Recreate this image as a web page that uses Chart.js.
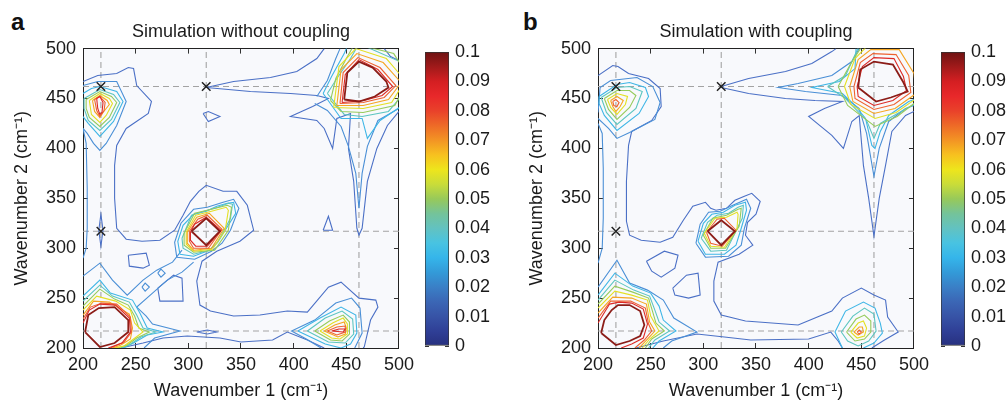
<!DOCTYPE html>
<html>
<head>
<meta charset="utf-8">
<script src="https://cdn.jsdelivr.net/npm/chart.js@4.4.1/dist/chart.umd.min.js"></script>
<style>
  html, body { margin:0; padding:0; background:#fff; }
  #wrap { position:relative; width:1008px; height:400px; overflow:hidden; }
  canvas { position:absolute; top:0; }
  .letter { position:absolute; top:8px; font: bold 24px "Liberation Sans", Arial, Helvetica, sans-serif; color:#111; line-height:28px; }
</style>
</head>
<body>
<div id="wrap">
  <div class="letter" style="left:11px">a</div>
  <div class="letter" style="left:523px">b</div>
  <canvas id="plotA" width="425" height="400" style="left:0px"></canvas>
  <canvas id="barA" width="90" height="400" style="left:410px"></canvas>
  <canvas id="plotB" width="425" height="400" style="left:515px"></canvas>
  <canvas id="barB" width="82" height="400" style="left:926px"></canvas>
</div>
<script>
// ---------------- data ----------------
const panelTitles = ['Simulation without coupling', 'Simulation with coupling'];
const xAxisTitle = 'Wavenumber 1 (cm\u207B\u00B9)';
const yAxisTitle = 'Wavenumber 2 (cm\u207B\u00B9)';
const wavenumberTicks = [200, 250, 300, 350, 400, 450, 500];
const colorbarTicks = [0, 0.01, 0.02, 0.03, 0.04, 0.05, 0.06, 0.07, 0.08, 0.09, 0.1];
const colorbarTickLabels = ['0', '0.01', '0.02', '0.03', '0.04', '0.05', '0.06', '0.07', '0.08', '0.09', '0.1'];
const contourLevels = [0.01, 0.02, 0.03, 0.04, 0.05, 0.06, 0.07, 0.08, 0.09, 0.1];
const guidePositions = [217, 317, 462];
const crossPoints = [[217, 462], [317, 462], [217, 317]];

// contour lines, panel a: [level index (1..10), [[wavenumber1, wavenumber2], ...]]
const aLevel1Lines = [
  [1, [[200,467],[214,473],[232,475],[243,481],[248,480],[251,463],[265,447],[262,435],[241,420],[232,403],[230,383],[230,350],[232,320],[241,309],[256,307],[273,308],[287,318],[295,333],[302,347],[310,357],[317,363],[333,357],[346,357],[356,343],[362,318],[349,307],[327,297],[313,287],[308,267],[311,243],[321,237],[343,232],[368,233],[394,237],[413,236],[433,261],[445,266],[462,250],[478,248],[480,241],[473,228],[467,201],[466,200]]],
  [1, [[317,461],[343,467],[378,471],[403,477],[422,490],[429,500]]],
  [1, [[317,461],[359,457],[397,455],[422,453],[433,450],[418,442],[397,432],[422,428],[429,420],[437,400],[441,430],[454,435],[452,400],[457,367],[460,320],[462,313],[465,320],[470,367],[479,400],[489,423],[500,437]]],
  [1, [[236,200],[257,205],[276,210],[299,212],[330,210],[350,206],[380,208],[394,216],[413,208],[429,200]]],
  [1, [[486,500],[492,492],[500,488]]]
];
const aIslands = [
  [1, [[314,435],[319,437],[330,432],[319,427],[314,435]]],
  [1, [[428,318],[433,332],[437,318],[428,318]]],
  [1, [[243,293],[260,295],[263,283],[257,280],[244,282],[243,293]]],
  [1, [[271,260],[286,273],[294,270],[295,247],[273,247],[271,260]]],
  [1, [[215,318],[217,334],[219,318],[217,302],[215,318]]],
  [1, [[308,216],[318,218],[327,216],[318,214],[308,216]]],
  [2, [[271,275],[274,279],[278,275],[274,271],[271,275]]],
  [2, [[256,261],[259,265],[263,261],[259,257],[256,261]]]
];
const aLevel2Lines = [
  [2, [[200,420],[203,405],[204,360],[204,320],[203,300],[200,290]]],
  [2, [[200,272],[216,285],[228,268],[242,253],[257,268],[270,278],[285,286],[294,298]]],
  [2, [[258,200],[268,210],[292,217],[266,224],[260,232],[251,241],[266,255],[280,268],[294,276],[305,286]]],
  [2, [[420,445],[432,438],[445,422],[452,402],[459,375],[462,340],[465,375],[470,402],[480,428],[500,440]]],
  [2, [[422,452],[432,468],[440,490],[444,500]]]
];
const aPeakLowLeft = [
  [3, [[200,252],[216,268],[226,255],[247,248],[254,235],[261,220],[276,216],[261,213],[248,205],[238,200]]],
  [4, [[200,247],[216,263],[228,252],[244,246],[251,233],[257,220],[269,216],[255,211],[244,203],[236,200]]],
  [5, [[200,242],[216,259],[230,249],[243,243],[249,232],[253,220],[263,216],[251,210],[242,203],[233,200]]],
  [6, [[200,238],[213,252],[231,247],[245,238],[249,225],[257,216],[248,209],[239,202],[230,200]]],
  [7, [[200,233],[210,247],[225,246],[244,234],[247,220],[245,209],[236,203],[228,200]]],
  [8, [[200,229],[207,241],[218,245],[232,244],[245,231],[246,216],[239,206],[226,200]]],
  [9, [[200,225],[206,238],[216,244],[231,243],[244,230],[245,216],[237,205],[224,200]]],
  [10, [[202,216],[205,233],[215,240],[230,241],[243,228],[243,216],[230,205],[216,201],[202,216]]]
];
const aPeakUpRight = [
  [3, [[428,455],[436,472],[448,495],[452,505],[505,505],[506,445],[482,428],[470,410],[465,430],[445,430],[428,455]]],
  [4, [[432,455],[441,470],[454,490],[462,505],[505,485],[510,462],[490,437],[465,432],[448,434],[432,455]]],
  [5, [[435,448],[440,470],[450,490],[458,505],[495,495],[510,470],[496,443],[466,436],[445,437],[435,448]]],
  [6, [[438,441],[443,482],[459,500],[488,490],[506,468],[493,446],[466,440],[438,441]]],
  [7, [[441,443],[445,479],[460,495],[485,486],[502,466],[490,449],[466,443],[441,443]]],
  [8, [[444,445],[447,476],[461,491],[482,481],[497,463],[486,451],[466,446],[444,445]]],
  [9, [[446,446],[449,474],[462,489],[480,479],[494,462],[484,453],[467,448],[446,446]]],
  [10, [[448,449],[451,476],[462,487],[475,481],[488,467],[490,461],[477,452],[462,447],[448,449]]]
];
const aPeakCentre = [
  [2, [[289,291],[287,306],[293,325],[305,339],[318,341],[333,346],[343,349],[348,340],[340,318],[332,305],[322,297],[306,289],[289,291]]],
  [3, [[292,294],[290,307],[295,323],[305,334],[317,337],[327,342],[337,345],[343,346],[345,335],[335,318],[328,306],[320,298],[305,292],[292,294]]],
  [4, [[294,310],[303,333],[318,338],[328,341],[338,345],[342,344],[340,330],[334,318],[327,305],[320,298],[305,294],[295,300],[294,310]]],
  [5, [[296,315],[306,335],[322,339],[337,343],[341,341],[338,318],[325,298],[305,296],[296,303],[296,315]]],
  [6, [[298,316],[307,333],[322,337],[336,341],[338,338],[335,318],[323,299],[305,297],[298,304],[298,316]]],
  [7, [[299,316],[308,331],[320,335],[334,320],[322,300],[305,298],[299,305],[299,316]]],
  [8, [[301,317],[309,329],[318,333],[332,319],[319,300],[305,300],[301,307],[301,317]]],
  [9, [[302,316],[306,324],[317,331],[331,318],[318,302],[307,302],[302,308],[302,316]]],
  [10, [[303,317],[317,330],[330,317],[317,303],[303,317]]]
];
const aPeakUpLeft = [
  [2, [[200,463],[214,467],[232,467],[241,447],[232,423],[222,405],[216,398],[210,405],[204,415],[200,420]]],
  [3, [[200,455],[208,460],[216,462],[232,457],[238,447],[229,427],[216,412],[205,425],[200,432]]],
  [4, [[201,450],[216,459],[229,454],[235,446],[227,429],[216,418],[205,428],[201,440],[201,450]]],
  [5, [[203,449],[216,457],[227,452],[232,446],[225,431],[216,422],[206,431],[203,440],[203,449]]],
  [6, [[206,448],[216,455],[225,450],[228,445],[222,433],[216,426],[208,434],[206,448]]],
  [7, [[209,448],[216,453],[223,448],[225,444],[219,436],[216,431],[211,437],[209,448]]],
  [8, [[211,449],[216,452],[221,446],[220,438],[216,432],[213,438],[211,449]]],
  [9, [[213,450],[216,452],[219,446],[218,436],[216,434],[214,440],[213,450]]]
];
const aPeakLowRight = [
  [2, [[426,200],[412,209],[398,217],[420,228],[440,245],[455,250],[463,240],[465,215],[458,200]]],
  [3, [[404,217],[425,230],[445,241],[459,233],[460,215],[454,204],[445,200],[430,204],[404,217]]],
  [4, [[413,217],[430,230],[446,237],[456,229],[457,214],[449,205],[433,206],[413,217]]],
  [5, [[420,217],[434,227],[447,233],[453,226],[453,214],[446,207],[435,208],[420,217]]],
  [6, [[425,217],[437,225],[447,230],[451,224],[451,214],[444,209],[436,210],[425,217]]],
  [7, [[429,217],[439,223],[448,226],[450,220],[449,214],[442,211],[429,217]]],
  [8, [[432,217],[441,221],[449,222],[449,216],[441,213],[432,217]]],
  [9, [[436,217],[443,219],[449,219],[447,216],[436,217]]]
];

// contour lines, panel b
const bLevel1Lines = [
  [1, [[200,473],[214,483],[219,482],[229,475],[248,470],[259,460],[260,442],[251,428],[232,417],[229,403],[227,367],[227,327],[230,313],[241,308],[259,306],[271,311],[281,328],[290,342],[302,346],[307,340],[312,338],[322,340],[330,348],[339,352],[346,355],[354,347],[350,334],[342,326],[340,313],[347,303],[334,294],[314,286],[310,267],[310,247],[317,233],[340,227],[390,223],[422,237],[432,250],[450,260],[462,253],[473,248],[475,231],[485,216],[472,208],[460,200]]],
  [1, [[317,462],[343,470],[378,477],[403,485],[422,497],[426,500]]],
  [1, [[317,461],[343,455],[378,450],[406,448],[432,447],[415,440],[400,432],[422,413],[433,400],[441,427],[448,433],[452,383],[457,350],[462,312],[467,350],[473,383],[479,417],[492,433],[500,437]]],
  [1, [[236,200],[262,207],[294,214],[320,211],[345,208],[400,209],[421,216],[428,207],[432,200]]]
];
const bIslands = [
  [1, [[246,287],[263,297],[276,293],[273,280],[260,271],[251,277],[246,287]]],
  [1, [[271,260],[284,273],[295,275],[297,253],[286,250],[273,253],[271,260]]]
];
const bLevel2Lines = [
  [2, [[200,425],[204,415],[205,380],[205,330],[204,300],[200,285]]],
  [2, [[448,500],[441,487],[422,473],[390,465],[371,461],[397,457],[432,453],[448,440],[455,415],[462,372],[467,400],[476,427],[492,440],[500,443]]],
  [3, [[445,500],[444,480],[429,467],[403,461],[432,455],[444,443],[454,430],[460,403],[463,400],[468,417],[476,433],[495,447],[500,449]]]
];
const bPeakLowLeft = [
  [2, [[200,261],[218,288],[230,265],[247,258],[262,248],[272,230],[294,216],[270,207],[262,200]]],
  [3, [[200,253],[216,275],[233,262],[250,255],[258,242],[262,228],[274,217],[258,207],[252,200]]],
  [4, [[200,248],[216,268],[234,258],[249,252],[254,238],[258,226],[268,217],[254,208],[248,200]]],
  [5, [[200,244],[216,262],[233,256],[248,250],[252,236],[255,225],[263,217],[251,209],[245,200]]],
  [6, [[200,240],[216,257],[232,253],[247,248],[250,232],[258,217],[249,209],[242,200]]],
  [7, [[200,235],[214,251],[232,250],[246,244],[249,226],[254,217],[247,209],[239,200]]],
  [8, [[200,230],[212,247],[231,247],[245,240],[248,224],[251,217],[244,208],[235,200]]],
  [9, [[200,225],[211,244],[220,246],[232,245],[243,239],[247,224],[243,210],[232,204],[222,200]]],
  [10, [[203,215],[206,228],[213,238],[219,243],[230,243],[240,237],[244,223],[240,212],[230,207],[217,203],[203,215]]]
];
const bPeakUpRight = [
  [4, [[418,462],[435,473],[448,503],[505,503],[505,447],[486,436],[468,425],[462,410],[455,428],[435,450],[418,462]]],
  [5, [[428,462],[440,485],[451,503],[505,503],[505,449],[484,432],[463,422],[437,443],[428,462]]],
  [6, [[434,462],[444,490],[456,503],[505,503],[505,452],[483,436],[463,430],[440,444],[434,462]]],
  [7, [[439,462],[447,489],[459,499],[486,499],[500,475],[502,455],[482,440],[462,435],[442,447],[439,462]]],
  [8, [[443,462],[449,486],[461,495],[483,494],[495,473],[497,456],[481,444],[462,439],[444,450],[443,462]]],
  [9, [[446,462],[451,482],[462,491],[481,490],[490,472],[493,458],[480,448],[462,443],[447,452],[446,462]]],
  [10, [[447,461],[449,479],[462,487],[480,484],[490,466],[494,457],[478,451],[464,447],[447,461]]]
];
const bPeakCentre = [
  [2, [[293,305],[297,324],[305,336],[316,337],[328,343],[341,349],[345,340],[339,320],[336,303],[324,292],[302,291],[293,305]]],
  [3, [[295,307],[300,325],[308,334],[319,336],[330,343],[340,346],[341,338],[336,320],[331,303],[320,294],[302,294],[295,307]]],
  [4, [[298,310],[304,326],[313,333],[324,335],[333,341],[338,343],[337,330],[330,315],[322,298],[307,297],[298,310]]],
  [5, [[300,313],[309,330],[322,333],[333,339],[336,340],[334,322],[321,300],[307,300],[300,313]]],
  [6, [[301,315],[311,330],[322,331],[332,336],[333,334],[332,320],[320,301],[307,302],[301,315]]],
  [8, [[303,316],[313,329],[320,330],[331,318],[318,302],[307,305],[303,316]]],
  [10, [[304,317],[317,328],[330,317],[317,303],[304,317]]]
];
const bPeakUpLeft = [
  [2, [[200,436],[202,461],[212,468],[237,471],[252,462],[259,446],[254,429],[230,416],[218,410],[210,420],[200,430]]],
  [3, [[201,452],[218,464],[230,466],[245,461],[248,452],[239,435],[218,418],[206,433],[201,445],[201,452]]],
  [4, [[203,451],[218,461],[230,462],[242,457],[236,440],[218,424],[208,436],[203,451]]],
  [5, [[206,450],[218,458],[230,458],[236,453],[230,441],[218,429],[210,439],[206,450]]],
  [6, [[209,449],[218,455],[228,452],[226,444],[218,434],[212,441],[209,449]]],
  [7, [[212,448],[218,452],[224,448],[221,442],[217,437],[214,442],[212,448]]],
  [8, [[214,447],[217,449],[220,446],[218,442],[215,443],[214,447]]]
];
const bPeakLowRight = [
  [3, [[432,200],[425,216],[435,237],[452,246],[463,240],[468,225],[470,215],[462,205],[452,200]]],
  [4, [[431,216],[442,232],[453,240],[462,234],[464,217],[457,207],[447,202],[437,207],[431,216]]],
  [5, [[436,216],[445,229],[453,233],[459,227],[459,216],[453,209],[444,207],[436,216]]],
  [6, [[440,216],[447,225],[452,227],[455,220],[453,212],[446,210],[440,216]]],
  [7, [[443,216],[448,221],[451,221],[452,216],[447,213],[443,216]]],
  [8, [[446,216],[448,218],[450,216],[448,214],[446,216]]]
];

// ---------------- styles ----------------
const FONT = '"Liberation Sans", Arial, Helvetica, sans-serif';
const TEXT = '#1a1a1a';
const levelColors = ['#4b70c6', '#4a8fd6', '#3fb6e6', '#5cc5c0', '#96cb5c', '#e3e024', '#f5a623', '#ee6130', '#dd2a26', '#8c1d18'];
const colormapStops = ['#27307f','#2f3f96','#3753a6','#3b66b5','#3a7fc6','#339ad8','#35b5ea','#48c3e2','#62c2c1','#74c39a','#97c95a','#c9dc39','#eee51c','#f7c11f','#f39424','#ee6a27','#e9412a','#e8282a','#d41f22','#a01a1a','#6e1212'];

const plotBackground = {
  id: 'plotBackground',
  beforeDraw(chart) {
    const { ctx, chartArea: a } = chart;
    ctx.save();
    ctx.fillStyle = '#f8f9fc';
    ctx.fillRect(a.left, a.top, a.width, a.height);
    ctx.restore();
  }
};

function toPoints(arr) { return arr.map(p => ({ x: p[0], y: p[1] })); }

function buildDatasets(contours) {
  const lo = wavenumberTicks[0], hi = wavenumberTicks[wavenumberTicks.length - 1];
  const ds = [];
  guidePositions.forEach(v => {
    ds.push({ data: [{ x: v, y: lo }, { x: v, y: hi }], showLine: true, pointRadius: 0, borderColor: '#a3a3a3', borderWidth: 1.1, borderDash: [6, 4], order: 50, clip: 0 });
    ds.push({ data: [{ x: lo, y: v }, { x: hi, y: v }], showLine: true, pointRadius: 0, borderColor: '#a3a3a3', borderWidth: 1.1, borderDash: [6, 4], order: 50, clip: 0 });
  });
  contours.forEach(([lv, pts]) => {
    ds.push({ data: toPoints(pts), showLine: true, pointRadius: 0, fill: false, tension: 0,
      borderColor: levelColors[lv - 1], borderWidth: lv === 10 ? 1.8 : 1.1, order: 20 - lv, clip: 0 });
  });
  ds.push({ data: toPoints(crossPoints), showLine: false, pointStyle: 'crossRot', pointRadius: 6,
    borderColor: '#222', borderWidth: 1.5, order: 0 });
  return ds;
}

function setTicks(scale) { scale.ticks = wavenumberTicks.map(v => ({ value: v })); }

function panelConfig(title, contours) {
  const tickFont = { family: FONT, size: 18 };
  const titleFont = { family: FONT, size: 18, lineHeight: 1 };
  const grid = { drawOnChartArea: false, drawTicks: true, tickLength: -5, color: '#333', lineWidth: 1 };
  const border = { display: true, color: '#222', width: 1 };
  const lo = wavenumberTicks[0], hi = wavenumberTicks[wavenumberTicks.length - 1];
  return {
    type: 'scatter',
    data: { datasets: buildDatasets(contours) },
    options: {
      responsive: false, animation: false, events: [],
      layout: { padding: { left: 0, right: 0, top: 0, bottom: 0 } },
      plugins: {
        legend: { display: false }, tooltip: { enabled: false },
        title: { display: true, text: title, fullSize: false, color: TEXT,
          font: { family: FONT, size: 18, weight: 'normal' }, padding: { top: 21, bottom: 6 } }
      },
      scales: {
        x: { type: 'linear', position: 'bottom', min: lo, max: hi, afterBuildTicks: setTicks,
          ticks: { font: tickFont, color: TEXT, padding: 11, maxRotation: 0, callback: v => String(v) },
          grid, border,
          title: { display: true, text: xAxisTitle, color: TEXT, font: titleFont, padding: { top: 0, bottom: 0 } },
          afterFit: s => { s.height = 52; } },
        xTop: { type: 'linear', position: 'top', min: lo, max: hi, afterBuildTicks: setTicks,
          ticks: { display: false }, grid, border, afterFit: s => { s.height = 0; } },
        y: { type: 'linear', position: 'left', min: lo, max: hi, afterBuildTicks: setTicks,
          ticks: { font: tickFont, color: TEXT, padding: 12, callback: v => String(v) },
          grid, border,
          title: { display: true, text: yAxisTitle, color: TEXT, font: titleFont, padding: { top: 13, bottom: 0 } },
          afterFit: s => { s.width = 83; } },
        yRight: { type: 'linear', position: 'right', min: lo, max: hi, afterBuildTicks: setTicks,
          ticks: { display: false }, grid, border, afterFit: s => { s.width = 0; } }
      }
    },
    plugins: [plotBackground]
  };
}

function colorbarConfig(canvasWidth) {
  const setCbTicks = s => { s.ticks = colorbarTicks.map(v => ({ value: v })); };
  const grid = { drawOnChartArea: false, drawTicks: true, tickLength: -4, color: '#333', lineWidth: 1 };
  const top = colorbarTicks[colorbarTicks.length - 1];
  return {
    type: 'bar',
    data: { labels: [''], datasets: [{
      data: [top], yAxisID: 'y', xAxisID: 'x',
      backgroundColor: (c) => {
        const area = c.chart.chartArea;
        if (!area) return '#888';
        const g = c.chart.ctx.createLinearGradient(0, area.bottom, 0, area.top);
        colormapStops.forEach((col, i) => g.addColorStop(i / (colormapStops.length - 1), col));
        return g;
      },
      borderColor: '#333', borderWidth: 1, borderSkipped: false,
      barPercentage: 1, categoryPercentage: 1
    }] },
    options: {
      responsive: false, animation: false, events: [],
      layout: { padding: { left: 15, right: 0, top: 52, bottom: 54 } },
      plugins: { legend: { display: false }, tooltip: { enabled: false } },
      scales: {
        x: { display: false },
        y: { position: 'right', min: 0, max: top, afterBuildTicks: setCbTicks,
          ticks: { font: { family: FONT, size: 18 }, color: TEXT, padding: 10,
            callback: (v, i) => colorbarTickLabels[i] },
          grid, border: { display: false }, afterFit: s => { s.width = canvasWidth - 39; } },
        yLeft: { position: 'left', min: 0, max: top, afterBuildTicks: setCbTicks,
          ticks: { display: false }, grid, border: { display: false }, afterFit: s => { s.width = 0; } }
      }
    }
  };
}

const panelAContours = [...aLevel1Lines, ...aIslands, ...aLevel2Lines, ...aPeakLowLeft, ...aPeakUpRight, ...aPeakCentre, ...aPeakUpLeft, ...aPeakLowRight];
const panelBContours = [...bLevel1Lines, ...bIslands, ...bLevel2Lines, ...bPeakLowLeft, ...bPeakUpRight, ...bPeakCentre, ...bPeakUpLeft, ...bPeakLowRight];

new Chart(document.getElementById('plotA'), panelConfig(panelTitles[0], panelAContours));
new Chart(document.getElementById('plotB'), panelConfig(panelTitles[1], panelBContours));
new Chart(document.getElementById('barA'), colorbarConfig(90));
new Chart(document.getElementById('barB'), colorbarConfig(82));
</script>
</body>
</html>
